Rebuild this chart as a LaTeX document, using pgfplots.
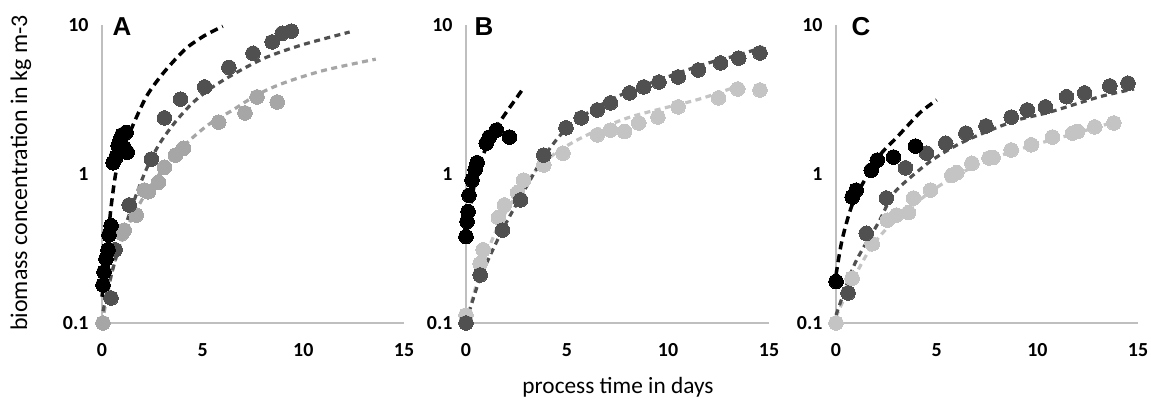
\documentclass[border=0pt]{standalone}
\usepackage{pgfplots}
\pgfplotsset{compat=1.18}
\usepackage{fontspec}
\setmainfont{Carlito}
\newfontfamily\lsans{Liberation Sans}
\definecolor{dg}{HTML}{505050}
\definecolor{lgA}{HTML}{A6A6A6}
\definecolor{lgB}{HTML}{C4C4C4}
\definecolor{axc}{HTML}{BFBFBF}
\pgfplotsset{
 myaxis/.style={scale only axis, height=298bp, xmin=0, xmax=15, ymin=0.1, ymax=10,
  axis x line*=bottom, axis y line*=left, axis line style={draw=axc, line width=2.2bp, -},
  xtick={0,5,10,15}, xticklabels={0,5,10,15}, ytick={0.1,1,10}, yticklabels={0.1,1,10},
  major tick length=0pt, minor tick length=0pt, tick label style={font=\bfseries\fontsize{20}{20}\selectfont},
  xticklabel style={yshift=-17bp}, yticklabel style={xshift=-10bp},
  clip=false},
 mypts/.style={only marks, mark=*, mark size=7.3bp, color=#1, fill=#1, mark options={draw=#1, fill=#1, line width=0pt}},
 myfitk/.style={color=#1, no marks, smooth, line width=3.5bp, dash pattern=on 8bp off 5bp},
 myfitg/.style={color=#1, no marks, smooth, line width=3.2bp, dash pattern=on 6bp off 4.5bp},
}
\begin{document}
\begin{tikzpicture}[x=1bp,y=1bp]
\useasboundingbox (0,0) rectangle (1151,404);
% ---------- A
\begin{axis}[ymode=log, myaxis, width=302bp, at={(102bp,81bp)}, anchor=south west]
\addplot[mypts=lgA] coordinates {(0.05,0.1) (1.0,0.40) (1.1,0.42) (1.7,0.53) (2.1,0.78) (2.3,0.76) (2.8,0.88) (3.1,1.11) (3.65,1.34) (4.05,1.49) (5.8,2.23) (7.1,2.57) (7.7,3.29) (8.7,3.04)};
\addplot[mypts=dg] coordinates {(0.45,0.147) (0.65,0.31) (1.35,0.62) (2.45,1.26) (3.1,2.38) (3.9,3.18) (5.1,3.84) (6.3,5.2) (7.5,6.46) (8.45,7.7) (8.95,8.8) (9.4,9.1)};
\addplot[mypts=black] coordinates {(0.05,0.18) (0.1,0.22) (0.2,0.27) (0.3,0.31) (0.35,0.39) (0.45,0.45) (0.55,1.19) (0.7,1.3) (0.8,1.55) (0.9,1.7) (1.0,1.83) (1.1,1.5) (1.2,1.9) (1.25,1.4)};
\addplot[myfitg=lgA] coordinates {(0.1,0.117) (0.6,0.25) (1.3,0.45) (2.2,0.75) (3.2,1.15) (4.2,1.61) (5.3,2.15) (6.5,2.69) (7.7,3.4) (9,4.07) (11,4.95) (13.6,5.9)};
\addplot[myfitg=dg] coordinates {(0.05,0.12) (0.5,0.22) (1.3,0.51) (2.1,1.0) (2.8,1.55) (3.6,2.2) (4.5,3.0) (5.5,3.84) (6.8,4.9) (8.2,6.1) (10,7.4) (12.3,8.97)};
\addplot[myfitk=black] coordinates {(0,0.15) (0.2,0.26) (0.45,0.6) (0.8,1.2) (1.5,2.07) (2.2,3.3) (2.9,4.5) (3.6,5.8) (4.25,7.1) (5.1,8.5) (6,9.8)};
\end{axis}
% ---------- B
\begin{axis}[ymode=log, myaxis, width=303bp, at={(466bp,81bp)}, anchor=south west]
\addplot[mypts=lgB] coordinates {(0,0.113) (0.7,0.25) (0.85,0.31) (1.6,0.51) (1.9,0.62) (2.55,0.75) (2.85,0.91) (3.85,1.15) (4.8,1.38) (6.5,1.83) (7.15,1.97) (7.85,1.93) (8.55,2.2) (9.5,2.41) (10.5,2.82) (12.5,3.24) (13.45,3.72) (14.55,3.66)};
\addplot[mypts=dg] coordinates {(0,0.1) (0.7,0.21) (1.8,0.42) (2.7,0.67) (3.85,1.34) (4.95,2.04) (5.7,2.38) (6.5,2.69) (7.15,3.0) (8.1,3.5) (8.8,3.84) (9.55,4.14) (10.5,4.48) (11.5,4.99) (12.6,5.56) (13.5,6.0) (14.55,6.49)};
\addplot[mypts=black] coordinates {(0,0.38) (0.05,0.48) (0.1,0.56) (0.15,0.72) (0.3,0.91) (0.45,1.07) (0.55,1.19) (1.0,1.61) (1.15,1.77) (1.5,1.97) (2.15,1.77)};
\addplot[myfitg=lgB] coordinates {(0,0.1) (0.7,0.22) (1.6,0.45) (2.6,0.75) (3.85,1.2) (5.5,1.69) (8,2.38) (11.4,3.14) (13,3.7) (13.6,3.96)};
\addplot[myfitg=dg] coordinates {(0,0.1) (0.7,0.2) (1.8,0.42) (2.7,0.7) (3.85,1.3) (4.95,2.0) (6.4,2.77) (8.1,3.6) (10.4,4.7) (12,5.56) (13.5,6.3) (14.7,7.1)};
\addplot[myfitk=black] coordinates {(0,0.35) (0.3,0.7) (0.6,1.1) (1.0,1.5) (1.5,2.05) (2.0,2.6) (2.4,3.1) (2.8,3.7)};
\end{axis}
% ---------- C
\begin{axis}[ymode=log, myaxis, width=302bp, at={(836bp,81bp)}, anchor=south west]
\addplot[mypts=lgB] coordinates {(0,0.1) (0.8,0.2) (1.8,0.34) (2.55,0.49) (3.0,0.53) (3.6,0.55) (3.85,0.69) (4.7,0.78) (5.75,0.98) (6.0,1.02) (6.75,1.18) (7.6,1.28) (7.8,1.29) (8.7,1.45) (9.7,1.57) (10.75,1.77) (11.75,1.88) (12.0,1.93) (12.85,2.07) (13.8,2.2)};
\addplot[mypts=dg] coordinates {(0.6,0.159) (1.5,0.40) (2.5,0.69) (3.45,1.10) (4.5,1.38) (5.45,1.61) (6.45,1.88) (7.45,2.1) (8.7,2.41) (9.5,2.69) (10.4,2.82) (11.45,3.3) (12.35,3.5) (13.6,3.9) (14.5,4.07)};
\addplot[mypts=black] coordinates {(0,0.19) (0.8,0.70) (1.0,0.78) (1.75,1.06) (2.05,1.24) (2.85,1.3) (3.95,1.54)};
\addplot[myfitg=lgB] coordinates {(0,0.11) (0.8,0.19) (1.8,0.33) (3,0.5) (4.7,0.76) (6,0.98) (7.6,1.25) (9.7,1.55) (11.75,1.85) (13.9,2.25)};
\addplot[myfitg=dg] coordinates {(0,0.113) (0.8,0.227) (1.3,0.31) (2.1,0.47) (2.8,0.72) (3.5,0.9) (4.7,1.22) (5.95,1.55) (7.3,1.88) (9,2.3) (10.6,2.6) (13.1,3.3) (14.8,3.72)};
\addplot[myfitk=black] coordinates {(0,0.21) (0.3,0.36) (0.8,0.62) (1.5,0.95) (2.2,1.35) (3.0,1.75) (3.5,2.07) (4.2,2.6) (5.0,3.14)};
\end{axis}
\node[rotate=90, font=\fontsize{24}{24}\selectfont] at (21,231) {biomass concentration in kg m-3};
\node[font=\fontsize{23.4}{24}\selectfont] at (618,17) {process time in days};
\node[font=\lsans\bfseries\fontsize{26}{26}\selectfont] at (122,377) {A};
\node[font=\lsans\bfseries\fontsize{26}{26}\selectfont] at (484,377) {B};
\node[font=\lsans\bfseries\fontsize{26}{26}\selectfont] at (861,377) {C};
\end{tikzpicture}
\end{document}
